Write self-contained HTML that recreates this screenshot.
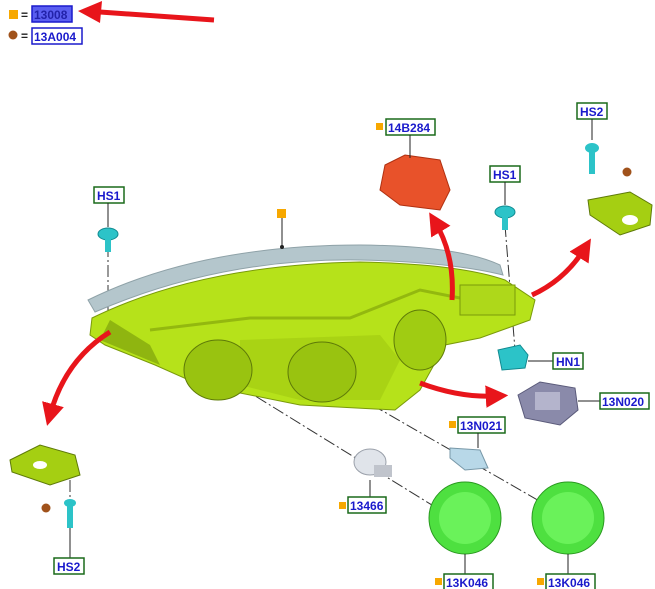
<!DOCTYPE html>
<html><head><meta charset="utf-8"><style>
html,body{margin:0;padding:0;background:#fff;width:655px;height:589px;overflow:hidden}
svg{display:block}
text{font-family:"Liberation Sans",sans-serif;font-weight:bold;font-size:12px;fill:#1a1acc}
</style></head><body>
<svg width="655" height="589" viewBox="0 0 655 589">
<defs>
<marker id="ah" viewBox="0 0 10 10" refX="5" refY="5" markerWidth="4.5" markerHeight="4.5" orient="auto"><path d="M0,0L10,5L0,10z" fill="#e8151b"/></marker>
</defs>
<rect x="9" y="10" width="9" height="9" fill="#f7a800"/>
<text x="21" y="19" style="fill:#222">=</text>
<rect x="32" y="6" width="40" height="16" fill="#5a5ef0" stroke="#1a1acc" stroke-width="1.5"/>
<text x="34" y="19" style="fill:#2222aa">13008</text>
<circle cx="13" cy="35" r="4.5" fill="#a0521b"/>
<text x="21" y="40" style="fill:#222">=</text>
<rect x="32" y="28" width="50" height="16" fill="#fff" stroke="#1a1acc" stroke-width="1.5"/>
<text x="34" y="41">13A004</text>
<line x1="214" y1="20" x2="100" y2="12" stroke="#e8151b" stroke-width="5"/>
<path d="M78,11L102,1L100,23z" fill="#e8151b"/>

<g stroke="#333" stroke-width="1" stroke-dasharray="12,3,2,3" fill="none">
<line x1="108" y1="245" x2="108" y2="325"/>
<line x1="205" y1="365" x2="440" y2="510"/>
<line x1="320" y1="375" x2="555" y2="510"/>
<line x1="505" y1="225" x2="515" y2="350"/>
<line x1="70" y1="480" x2="70" y2="500"/>
</g>

<path d="M88,300 Q200,245 360,245 Q460,246 500,265 L503,275 Q450,262 360,260 Q220,258 95,312z" fill="#b4c6cc" stroke="#8fa2a8"/>
<path d="M92,318 Q200,265 360,262 Q460,264 505,280 L535,300 L530,320 L480,338 L445,345 L420,390 L395,410 L300,405 L200,385 L155,365 L105,345 L90,335 Z" fill="#b6e21a" stroke="#7a9a0a"/>
<path d="M110,320 L150,345 L160,365 L100,340z" fill="#8fb510"/>
<path d="M150,330 L250,318 L350,318 L420,290 L470,300" fill="none" stroke="#93b80f" stroke-width="3"/>
<path d="M240,340 L380,335 L400,360 L380,400 L300,400 L240,385z" fill="#a9d314"/>
<ellipse cx="218" cy="370" rx="34" ry="30" fill="#99c310" stroke="#5e7a08"/>
<ellipse cx="322" cy="372" rx="34" ry="30" fill="#99c310" stroke="#5e7a08"/>
<ellipse cx="420" cy="340" rx="26" ry="30" fill="#a0cc12" stroke="#5e7a08"/>
<rect x="460" y="285" width="55" height="30" fill="#aed81a" stroke="#7a9a0a"/>
<line x1="282" y1="218" x2="282" y2="246" stroke="#222"/><circle cx="282" cy="247" r="2" fill="#222"/>
<rect x="277" y="209" width="9" height="9" fill="#f7a800"/>

<g fill="none" stroke="#e8151b" stroke-width="5" marker-end="url(#ah)">
<path d="M110,332 Q65,360 50,415"/>
<path d="M452,300 Q455,255 435,222"/>
<path d="M532,295 Q565,280 585,248"/>
<path d="M420,383 Q460,398 497,396"/>
</g>

<path d="M385,165 L405,155 L440,160 L450,190 L440,210 L400,205 L380,190z" fill="#e8522a" stroke="#b03010"/>
<rect x="376" y="123" width="7" height="7" fill="#f7a800"/>
<rect x="386" y="119" width="49" height="16" fill="#fff" stroke="#1a6a1a" stroke-width="1.5"/>
<text x="388" y="132">14B284</text>
<line x1="410" y1="135" x2="410" y2="158" stroke="#222"/>

<rect x="94" y="187" width="30" height="16" fill="#fff" stroke="#1a6a1a" stroke-width="1.5"/>
<text x="97" y="200">HS1</text>
<line x1="108" y1="203" x2="108" y2="227" stroke="#222"/>
<ellipse cx="108" cy="234" rx="10" ry="6" fill="#2cc3c8" stroke="#108a90"/>
<rect x="105" y="238" width="6" height="14" fill="#2cc3c8"/>
<rect x="490" y="166" width="30" height="16" fill="#fff" stroke="#1a6a1a" stroke-width="1.5"/>
<text x="493" y="179">HS1</text>
<line x1="505" y1="182" x2="505" y2="205" stroke="#222"/>
<ellipse cx="505" cy="212" rx="10" ry="6" fill="#2cc3c8" stroke="#108a90"/>
<rect x="502" y="216" width="6" height="14" fill="#2cc3c8"/>
<rect x="577" y="103" width="30" height="16" fill="#fff" stroke="#1a6a1a" stroke-width="1.5"/>
<text x="580" y="116">HS2</text>
<line x1="592" y1="119" x2="592" y2="140" stroke="#222"/>
<ellipse cx="592" cy="148" rx="7" ry="5" fill="#2cc3c8"/>
<rect x="589" y="152" width="6" height="22" fill="#2cc3c8"/>
<circle cx="627" cy="172" r="4.5" fill="#a0521b"/>
<path d="M588,200 L630,192 L652,205 L650,225 L620,235 L590,215z" fill="#a5cf12" stroke="#5e7a08"/>
<ellipse cx="630" cy="220" rx="8" ry="5" fill="#fff"/>
<path d="M10,460 L40,445 L75,455 L80,475 L50,485 L12,472z" fill="#a5cf12" stroke="#5e7a08"/>
<ellipse cx="40" cy="465" rx="7" ry="4" fill="#fff"/>
<circle cx="46" cy="508" r="4.5" fill="#a0521b"/>
<ellipse cx="70" cy="503" rx="6" ry="4" fill="#2cc3c8"/>
<rect x="67" y="506" width="6" height="22" fill="#2cc3c8"/>
<line x1="70" y1="528" x2="70" y2="558" stroke="#222"/>
<rect x="54" y="558" width="30" height="16" fill="#fff" stroke="#1a6a1a" stroke-width="1.5"/>
<text x="57" y="571">HS2</text>
<path d="M498,350 L520,345 L528,355 L525,368 L502,370z" fill="#2cc3c8" stroke="#108a90"/>
<line x1="528" y1="361" x2="553" y2="361" stroke="#222"/>
<rect x="553" y="353" width="30" height="16" fill="#fff" stroke="#1a6a1a" stroke-width="1.5"/>
<text x="556" y="366">HN1</text>
<path d="M518,395 L540,382 L575,388 L578,410 L560,425 L525,418z" fill="#8a8aaa" stroke="#5a5a7a"/>
<rect x="535" y="392" width="25" height="18" fill="#b4b4cc"/>
<line x1="578" y1="401" x2="600" y2="401" stroke="#222"/>
<rect x="600" y="393" width="49" height="16" fill="#fff" stroke="#1a6a1a" stroke-width="1.5"/>
<text x="602" y="406">13N020</text>
<rect x="449" y="421" width="7" height="7" fill="#f7a800"/>
<rect x="458" y="417" width="47" height="16" fill="#fff" stroke="#1a6a1a" stroke-width="1.5"/>
<text x="460" y="430">13N021</text>
<line x1="478" y1="433" x2="478" y2="448" stroke="#222"/>
<path d="M450,448 L480,450 L488,468 L465,470 L450,458z" fill="#b8d8e8" stroke="#7898a8"/>
<ellipse cx="370" cy="462" rx="16" ry="13" fill="#e0e4ea" stroke="#9aa0aa"/>
<rect x="374" y="465" width="18" height="12" fill="#c0c4cc"/>
<line x1="370" y1="480" x2="370" y2="505" stroke="#222"/>
<rect x="339" y="502" width="7" height="7" fill="#f7a800"/>
<rect x="348" y="497" width="38" height="16" fill="#fff" stroke="#1a6a1a" stroke-width="1.5"/>
<text x="350" y="510">13466</text>
<circle cx="465" cy="518" r="36" fill="#4ee040" stroke="#2a9a20"/>
<circle cx="465" cy="518" r="26" fill="#6af25a"/>
<circle cx="568" cy="518" r="36" fill="#4ee040" stroke="#2a9a20"/>
<circle cx="568" cy="518" r="26" fill="#6af25a"/>
<line x1="465" y1="554" x2="465" y2="575" stroke="#222"/>
<line x1="568" y1="554" x2="568" y2="575" stroke="#222"/>
<rect x="435" y="578" width="7" height="7" fill="#f7a800"/>
<rect x="444" y="574" width="49" height="16" fill="#fff" stroke="#1a6a1a" stroke-width="1.5"/>
<text x="446" y="587">13K046</text>
<rect x="537" y="578" width="7" height="7" fill="#f7a800"/>
<rect x="546" y="574" width="49" height="16" fill="#fff" stroke="#1a6a1a" stroke-width="1.5"/>
<text x="548" y="587">13K046</text>
</svg>
</body></html>
